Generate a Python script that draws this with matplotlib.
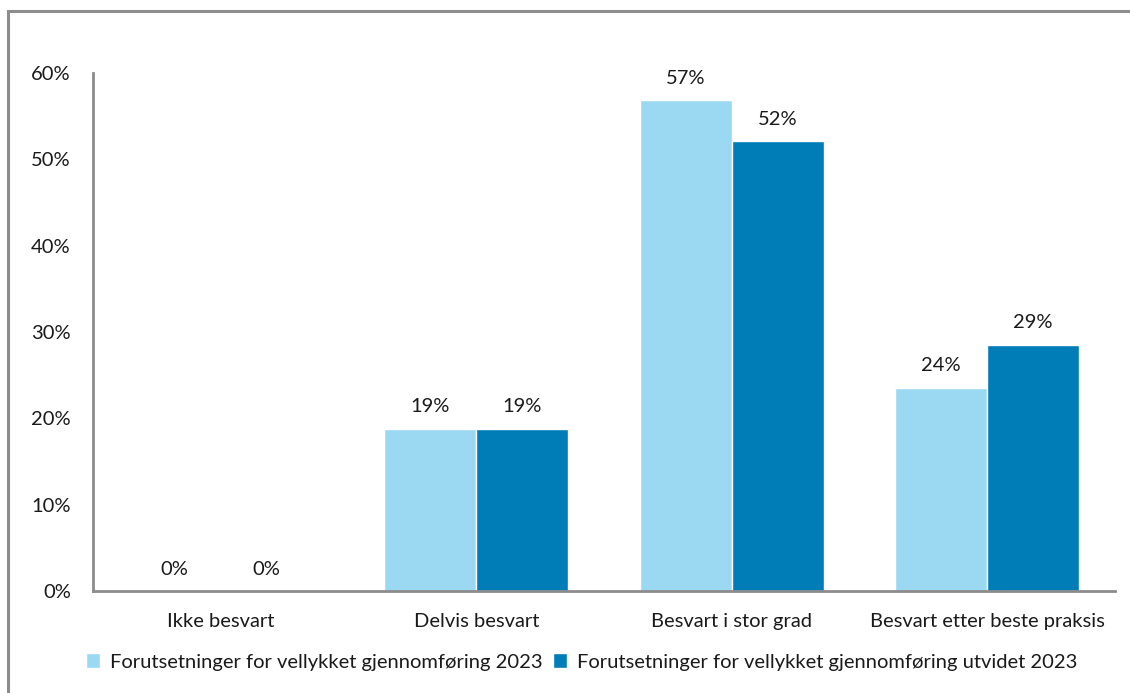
import matplotlib
matplotlib.use("Agg")
import matplotlib.pyplot as plt
from matplotlib.patches import Rectangle
import numpy as np

categories = ["Ikke besvart", "Delvis besvart", "Besvart i stor grad", "Besvart etter beste praksis"]
series_names = [
    "Forutsetninger for vellykket gjennomføring 2023",
    "Forutsetninger for vellykket gjennomføring utvidet 2023",
]
values_2023 = [0.0, 0.188, 0.569, 0.2355]
values_utvidet = [0.0, 0.188, 0.521, 0.2855]
y_ticks = [0.0, 0.1, 0.2, 0.3, 0.4, 0.5, 0.6]

colors = ["#9BD8F2", "#007CB7"]
text_color = "#1a1a1a"
axis_color = "#8c8c8c"
fs = 14.5

plt.rcParams["font.family"] = ["Lato", "DejaVu Sans"]

fig = plt.figure(figsize=(11.3, 6.93), dpi=100)
W, H = 1130, 693
ax = fig.add_axes([93 / W, 102 / H, (1115 - 93) / W, (620 - 102) / H])

x = np.arange(len(categories))
bw = 0.36
bars = []
for i, (vals, c, name) in enumerate(zip([values_2023, values_utvidet], colors, series_names)):
    b = ax.bar(x + (i - 0.5) * bw, vals, width=bw, color=c, edgecolor="white",
               linewidth=1.0, label=name, zorder=2)
    bars.append(b)
    for rect, v in zip(b, vals):
        ax.annotate(f"{v:.0%}", (rect.get_x() + rect.get_width() / 2, v),
                    xytext=(0, 9.5), textcoords="offset points",
                    ha="center", va="bottom", fontsize=fs, color=text_color)

ax.set_xlim(-0.5, len(categories) - 0.5)
ax.set_ylim(0, 0.6)
ax.set_yticks(y_ticks)
ax.set_yticklabels([f"{t:.0%}" for t in y_ticks])
ax.set_xticks(x)
ax.set_xticklabels(categories)
ax.tick_params(axis="y", length=0, pad=16, labelsize=fs, labelcolor=text_color)
ax.tick_params(axis="x", length=0, pad=16, labelsize=fs, labelcolor=text_color)

for s in ["top", "right"]:
    ax.spines[s].set_visible(False)
for s in ["left", "bottom"]:
    ax.spines[s].set_color(axis_color)
    ax.spines[s].set_linewidth(2)

leg = fig.legend(handles=bars, labels=series_names, loc="center",
                 bbox_to_anchor=(582 / W, 1 - 662 / H), ncol=2, frameon=False,
                 fontsize=fs, handlelength=0.7, handleheight=0.7,
                 handletextpad=0.5, columnspacing=0.5, labelcolor=text_color)

# outer frame around the chart area
frame = Rectangle((8 / W, -0.2), 1.2, 1.2 - 11 / H, transform=fig.transFigure,
                  fill=False, edgecolor=axis_color, linewidth=2.2, clip_on=False)
fig.patches.append(frame)

fig.savefig("out.png", dpi=100)
